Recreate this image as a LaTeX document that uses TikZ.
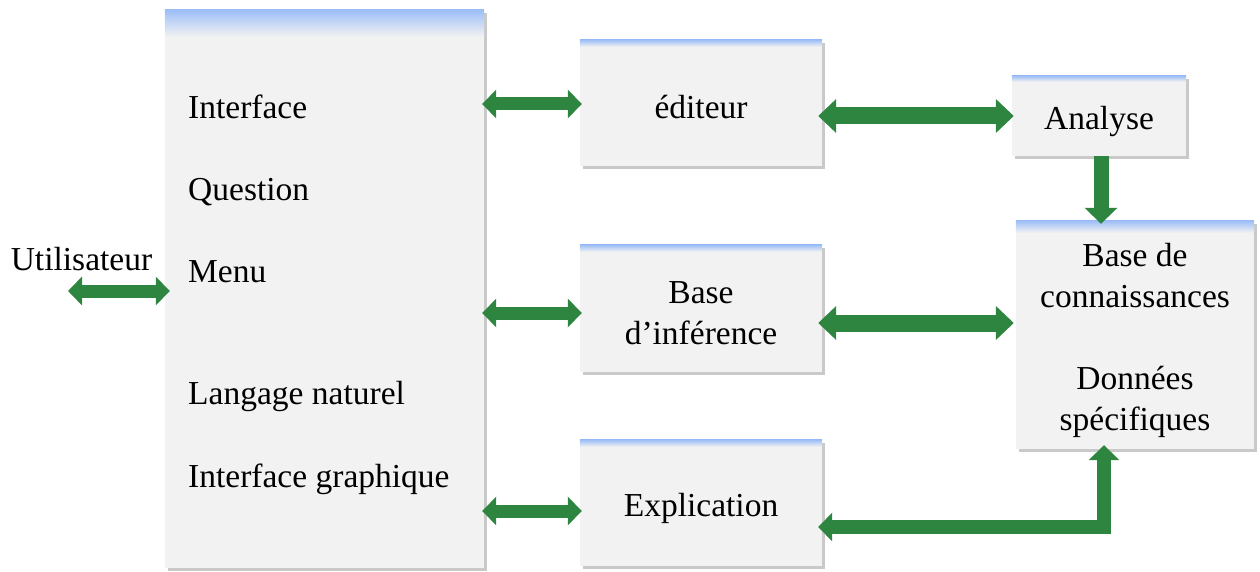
\documentclass[tikz,border=0pt]{standalone}
\usepackage{fontspec}
\setmainfont{Liberation Serif}
\usetikzlibrary{arrows.meta,shadows,calc}
\definecolor{boxfill}{HTML}{F2F2F2}
\definecolor{topblue}{HTML}{9DBEF7}
\definecolor{agreen}{HTML}{2E8540}
\tikzset{
  box/.style={fill=boxfill, draw=none, inner sep=0pt,
    drop shadow={shadow xshift=2.5pt, shadow yshift=-3pt, opacity=0.3, fill=black!70}},
  lbl/.style={font=\fontsize{33.5}{41}\selectfont, inner sep=0pt, align=center},
  smallarrow/.style={draw=agreen, line width=13pt,
    {Triangle[width=28pt,length=14pt]}-{Triangle[width=28pt,length=14pt]}},
  bigarrow/.style={draw=agreen, line width=17pt,
    {Triangle[width=33pt,length=18pt]}-{Triangle[width=33pt,length=18pt]}},
  downarrow/.style={draw=agreen, line width=15pt, -{Triangle[width=32pt,length=16pt]}},
  elbowarrow/.style={draw=agreen, line width=14pt, line join=miter,
    {Triangle[width=30pt,length=15pt]}-{Triangle[width=28pt,length=14pt]}},
}
\begin{document}
\begin{tikzpicture}[x=1pt,y=-1pt]
\useasboundingbox (0,0) rectangle (1260,572);
% boxes
\node[box, minimum width=319pt, minimum height=558pt] (left) at (324.5,289) {};
\node[box, minimum width=242pt, minimum height=126pt] (edit) at (701,103) {};
\node[box, minimum width=242pt, minimum height=127pt] (inf) at (701,308.5) {};
\node[box, minimum width=242pt, minimum height=126pt] (expl) at (701,503) {};
\node[box, minimum width=174pt, minimum height=80pt] (ana) at (1099,116) {};
\node[box, minimum width=238pt, minimum height=228pt] (bdc) at (1135,335) {};
% top gradient strips
\shade[top color=topblue, bottom color=boxfill] (left.north west) rectangle ([yshift=-27pt]left.north east);
\shade[top color=topblue, bottom color=boxfill] (edit.north west) rectangle ([yshift=-7pt]edit.north east);
\shade[top color=topblue, bottom color=boxfill] (inf.north west) rectangle ([yshift=-7pt]inf.north east);
\shade[top color=topblue, bottom color=boxfill] (expl.north west) rectangle ([yshift=-7pt]expl.north east);
\shade[top color=topblue, bottom color=boxfill] (ana.north west) rectangle ([yshift=-6pt]ana.north east);
\shade[top color=topblue, bottom color=boxfill] (bdc.north west) rectangle ([yshift=-12pt]bdc.north east);
% box texts
\node[lbl] (editT) at ([yshift=-4pt]edit.center) {éditeur};
\node[lbl] (infT) at ([yshift=-5pt]inf.center) {Base\\d’inférence};
\node[lbl] (explT) at ([yshift=-5pt]expl.center) {Explication};
\node[lbl] (anaT) at ([yshift=-5pt]ana.center) {Analyse};
\node[lbl] (bdcT) at ([yshift=-5pt]bdc.center) {Base de\\connaissances\\[41pt]Données\\spécifiques};
% left box texts
\node[lbl, anchor=mid west] (t1) at (188,116) {Interface};
\node[lbl, anchor=mid west] (t2) at (188,198) {Question};
\node[lbl, anchor=mid west] (t3) at (188,280) {Menu};
\node[lbl, anchor=mid west] (t4) at (188,402) {Langage naturel};
\node[lbl, anchor=mid west] (t5) at (188,485) {Interface graphique};
% user
\node[lbl, anchor=mid] (user) at (81.5,268) {Utilisateur};
\coordinate (uL) at (68,291);
% connectors
\draw[smallarrow] (uL) -- ($(left.west |- uL)+(5pt,0)$);
\draw[smallarrow] ($(left.east |- 0,104)+(-2pt,0)$) -- ($(edit.west |- 0,104)+(2pt,0)$);
\draw[smallarrow] ($(left.east |- 0,313)+(-2pt,0)$) -- ($(inf.west |- 0,313)+(2pt,0)$);
\draw[smallarrow] ($(left.east |- 0,511)+(-2pt,0)$) -- ($(expl.west |- 0,511)+(2pt,0)$);
\draw[bigarrow] ($(edit.east |- 0,116)+(-4pt,0)$) -- ($(ana.west |- 0,116)+(2pt,0)$);
\draw[bigarrow] ($(inf.east |- 0,323)+(-4pt,0)$) -- ($(bdc.west |- 0,323)+(-2pt,0)$);
\draw[downarrow] (ana.south -| 1101,0) -- ($(bdc.north -| 1101,0)+(0,-3pt)$);
\coordinate (corner) at (1104,527);
\draw[elbowarrow] ($(bdc.south -| corner)+(0,4pt)$) -- (corner) -- ($(expl.east |- corner)+(-4pt,0)$);
\end{tikzpicture}
\end{document}
